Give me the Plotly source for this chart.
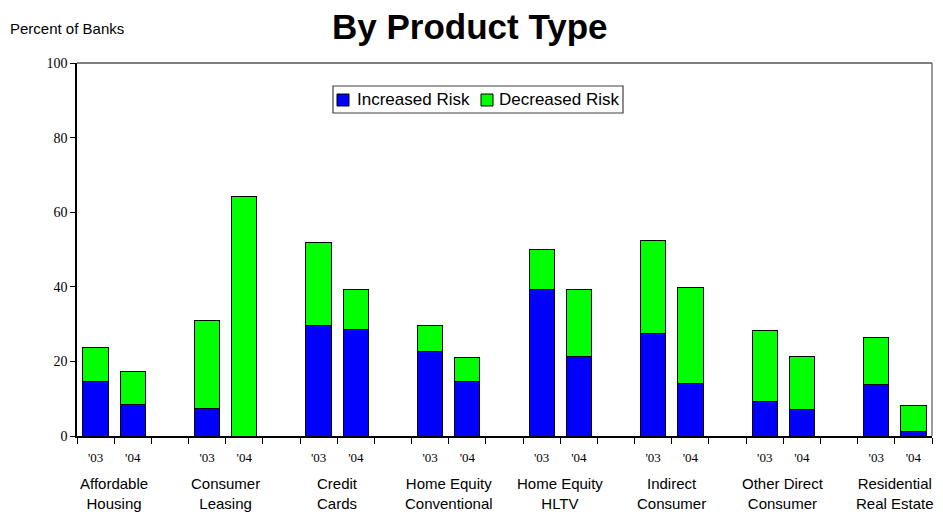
import plotly.graph_objects as go

categories = ["Affordable<br>Housing", "Consumer<br>Leasing", "Credit<br>Cards",
              "Home Equity<br>Conventional", "Home Equity<br>HLTV", "Indirect<br>Consumer",
              "Other Direct<br>Consumer", "Residential<br>Real Estate"]
years = ["'03", "'04"]
increased_03 = [14.7, 7.4, 29.7, 22.6, 39.3, 27.5, 9.3, 13.9]
total_03 = [23.6, 30.9, 51.8, 29.7, 49.9, 52.5, 28.2, 26.3]
increased_04 = [8.5, 0.0, 28.5, 14.7, 21.4, 14.2, 7.2, 1.3]
total_04 = [17.2, 64.2, 39.3, 21.1, 39.3, 39.9, 21.4, 8.1]
series_names = ["Increased Risk", "Decreased Risk"]
series_colors = ["#0000FF", "#00FF00"]

xs, inc, dec, ticktext = [], [], [], []
for i in range(len(categories)):
    for j, (iv, tv) in enumerate([(increased_03[i], total_03[i]), (increased_04[i], total_04[i])]):
        xs.append(i * 3 + j + 0.5)
        inc.append(iv)
        dec.append(round(tv - iv, 2))
        ticktext.append(years[j])

n_slots = len(categories) * 3 - 1

# pixel helpers for layout (plot area: x 77..932, y 63..436)
L, R, T, B = 77, 932, 63, 436
def px(x):
    return (x - L) / (R - L)
def py(y):
    return (B - y) / (B - T)

fig = go.Figure()
for name, col, vals in zip(series_names, series_colors, [inc, dec]):
    fig.add_trace(go.Bar(x=xs, y=vals, name=name, width=0.68, showlegend=False,
                         marker=dict(color=col, line=dict(color="#000000", width=1))))

for i, c in enumerate(categories):
    fig.add_annotation(x=i * 3 + 1, y=0, xref="x", yref="paper", yshift=-37,
                       text=c, showarrow=False, yanchor="top",
                       font=dict(family="Arial, Liberation Sans", size=15, color="#000000"))

# gray top and right frame
fig.add_shape(type="line", xref="paper", yref="paper", x0=0, x1=1, y0=1, y1=1,
              line=dict(color="#555555", width=1.5))
fig.add_shape(type="line", xref="paper", yref="paper", x0=1, x1=1, y0=0, y1=1,
              line=dict(color="#777777", width=1.5))

# legend box (drawn manually to match compact layout)
fig.add_shape(type="rect", xref="paper", yref="paper", x0=px(333), x1=px(623),
              y0=py(113), y1=py(86), line=dict(color="#404040", width=1.2),
              fillcolor="#FFFFFF", layer="above")
for (sx, tx), name, col in zip([(337, 355), (481, 497)], series_names, series_colors):
    fig.add_shape(type="rect", xref="paper", yref="paper", x0=px(sx), x1=px(sx + 12),
                  y0=py(106), y1=py(94), line=dict(color="#000000", width=1),
                  fillcolor=col, layer="above")
    fig.add_annotation(text=name, xref="paper", yref="paper", x=px(tx), y=py(100),
                       xanchor="left", yanchor="middle", showarrow=False,
                       font=dict(family="Arial, Liberation Sans", size=17, color="#000000"))

fig.add_annotation(text="<b>By Product Type</b>", xref="paper", yref="paper",
                   x=px(470), y=py(27), xanchor="center", yanchor="middle", showarrow=False,
                   font=dict(family="Arial, Liberation Sans", size=35, color="#000000"))
fig.add_annotation(text="Percent of Banks", xref="paper", yref="paper",
                   x=px(8), y=py(29), xanchor="left", yanchor="middle", showarrow=False,
                   font=dict(family="Arial, Liberation Sans", size=15, color="#000000"))

fig.update_layout(
    width=943, height=514,
    margin=dict(l=L, r=943 - R, t=T, b=514 - B),
    barmode="stack",
    plot_bgcolor="#FFFFFF", paper_bgcolor="#FFFFFF",
    showlegend=False,
    xaxis=dict(range=[0, n_slots], tickmode="array", tickvals=xs, ticktext=ticktext,
               ticks="outside", ticklen=9, tickcolor="rgba(0,0,0,0)",
               showgrid=False, zeroline=False,
               showline=True, linecolor="#000000", linewidth=1.5,
               tickfont=dict(family="Times New Roman, Liberation Serif", size=13, color="#000000"),
               minor=dict(tickmode="linear", tick0=0, dtick=1, ticks="outside",
                          ticklen=6, tickcolor="#000000", showgrid=False)),
    yaxis=dict(range=[0, 100], dtick=20, ticks="outside", ticklen=5, tickcolor="#000000",
               showgrid=False, zeroline=False, showline=True, linecolor="#000000", linewidth=1.5,
               tickfont=dict(family="Times New Roman, Liberation Serif", size=14, color="#000000")),
)

fig.write_html("out.html", config={"displayModeBar": False},
               post_script="document.body.style.margin='0';")
